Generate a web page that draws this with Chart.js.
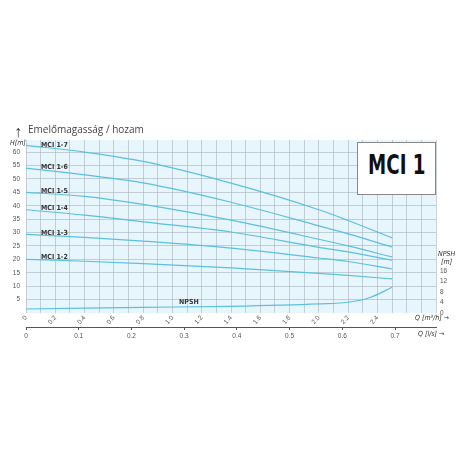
<!DOCTYPE html>
<html><head><meta charset="utf-8">
<script src="https://cdn.jsdelivr.net/npm/chart.js@4"></script>
<style>
body{margin:0;background:#fff;font-family:"Open Sans",sans-serif}
#w{position:relative;width:456px;height:456px}
.t{position:absolute;white-space:nowrap}
.l{position:absolute;font:bold 7px "Liberation Sans Narrow","DejaVu Sans Condensed",sans-serif;color:#333}
.ax{position:absolute;font:italic 7px "DejaVu Sans Condensed",sans-serif;color:#333}
</style></head><body>
<div id="w">
<canvas id="c" width="456" height="456"></canvas>
<div class="t" style="left:14px;top:120px;font-size:16px;color:#333">&#8593;</div>
<div class="t" style="left:28px;top:122px;font-size:10px;color:#444">Emelőmagasság / hozam</div>
<div class="ax" style="left:10px;top:139px">H[m]</div>
<div class="t" style="left:357px;top:142px;width:77px;height:51px;border:1px solid #888;background:#fff;color:#111;text-align:center;line-height:51px"><span style="display:inline-block;transform:scaleX(0.78);font:bold 26px 'DejaVu Sans Condensed',sans-serif">MCI 1</span></div>
<div class="ax" style="left:438px;top:250px;text-align:center">NPSH<br>[m]</div>
<div class="ax" style="left:415px;top:314px">Q [m³/h] &#8594;</div>
<div class="ax" style="left:418px;top:330px">Q [l/s] &#8594;</div>
<div class="l" style="left:41px;top:141px">MCI 1-7</div>
<div class="l" style="left:41px;top:163px">MCI 1-6</div>
<div class="l" style="left:41px;top:187px">MCI 1-5</div>
<div class="l" style="left:41px;top:204px">MCI 1-4</div>
<div class="l" style="left:41px;top:229px">MCI 1-3</div>
<div class="l" style="left:41px;top:253px">MCI 1-2</div>
<div class="l" style="left:179px;top:298px">NPSH</div>
</div>
<script>
const qValues=[0,0.4,0.8,1.4,2.0,2.2,2.5];
const mci17=[62.5,60,56.5,48.4,38.5,34.5,28];
const mci16=[54,51.5,48.5,41.3,32.5,29.5,24.6];
const mci15=[45,43.5,40.5,34.6,27.5,25,20.9];
const mci14=[38.5,36.5,34,30.2,24.5,22.8,19.7];
const mci13=[29.3,28.2,26.8,24.2,20.5,19.2,16.4];
const mci12=[20,19.3,18.4,16.8,14.8,14,12.7];
const npshQ=[0,0.4,0.8,1.4,2.0,2.2,2.35,2.5];
const npsh=[1.5,1.8,2.1,2.5,3.4,4,5.8,9.6];
const lsTicks=[0,0.1,0.2,0.3,0.4,0.5,0.6,0.7];
const col='#5bc0de';
const mk=a=>a.map((v,i)=>({x:qValues[i],y:v}));
const bg={id:'bg',beforeDraw(c){const a=c.chartArea,x=c.ctx;x.save();x.fillStyle='#e7f5fc';x.fillRect(a.left,a.top,a.right-a.left,a.bottom-a.top);x.restore();}};
new Chart(document.getElementById('c'),{type:'line',
data:{datasets:[mci17,mci16,mci15,mci14,mci13,mci12].map(a=>({data:mk(a),borderColor:col,borderWidth:1.2,pointRadius:0,cubicInterpolationMode:'monotone',yAxisID:'y'}))
.concat([{data:npsh.map((v,i)=>({x:npshQ[i],y:v})),borderColor:col,borderWidth:1.2,pointRadius:0,cubicInterpolationMode:'monotone',yAxisID:'y'}])},
options:{responsive:false,animation:false,events:[],layout:{padding:{top:140,left:0,right:0,bottom:0}},
plugins:{legend:{display:false},tooltip:{enabled:false}},
scales:{
x:{type:'linear',min:0,max:2.8,position:'bottom',afterFit(s){s.height=14},
 ticks:{stepSize:0.1,autoSkip:false,padding:1,font:{size:6.5},color:'#555',callback:v=>{const r=Math.round(v*10);return (r%2===0&&r<=24)?(r===0?'0':(r/10).toFixed(1)):''}},
 grid:{color:'#a8b3ba',lineWidth:0.6,drawTicks:false},border:{display:false}},
x2:{type:'linear',min:0,max:2.8/3.6,position:'bottom',afterFit(s){s.height=129},afterBuildTicks(s){s.ticks=lsTicks.map(v=>({value:v}))},
 ticks:{padding:2,font:{size:6.5},color:'#555',callback:v=>v===0?'0':v.toFixed(1)},
 grid:{drawOnChartArea:false,color:'#555',tickLength:3},border:{color:'#555',width:1}},
y:{min:0,max:64.5,afterFit(s){s.width=26},afterBuildTicks(s){s.ticks=[5,10,15,20,25,30,35,40,45,50,55,60].map(v=>({value:v}))},
 ticks:{font:{size:6.5},color:'#555',padding:6},grid:{color:'#a8b3ba',lineWidth:0.6,drawTicks:false},border:{display:false}},
y2:{position:'right',min:0,max:64.5*2.685/2.62,afterFit(s){s.width=20},afterBuildTicks(s){s.ticks=[0,4,8,12,16].map(v=>({value:v}))},
 ticks:{font:{size:6.5},color:'#555',padding:4},grid:{drawOnChartArea:false,drawTicks:false},border:{display:false}}
}},plugins:[bg]});
</script></body></html>
